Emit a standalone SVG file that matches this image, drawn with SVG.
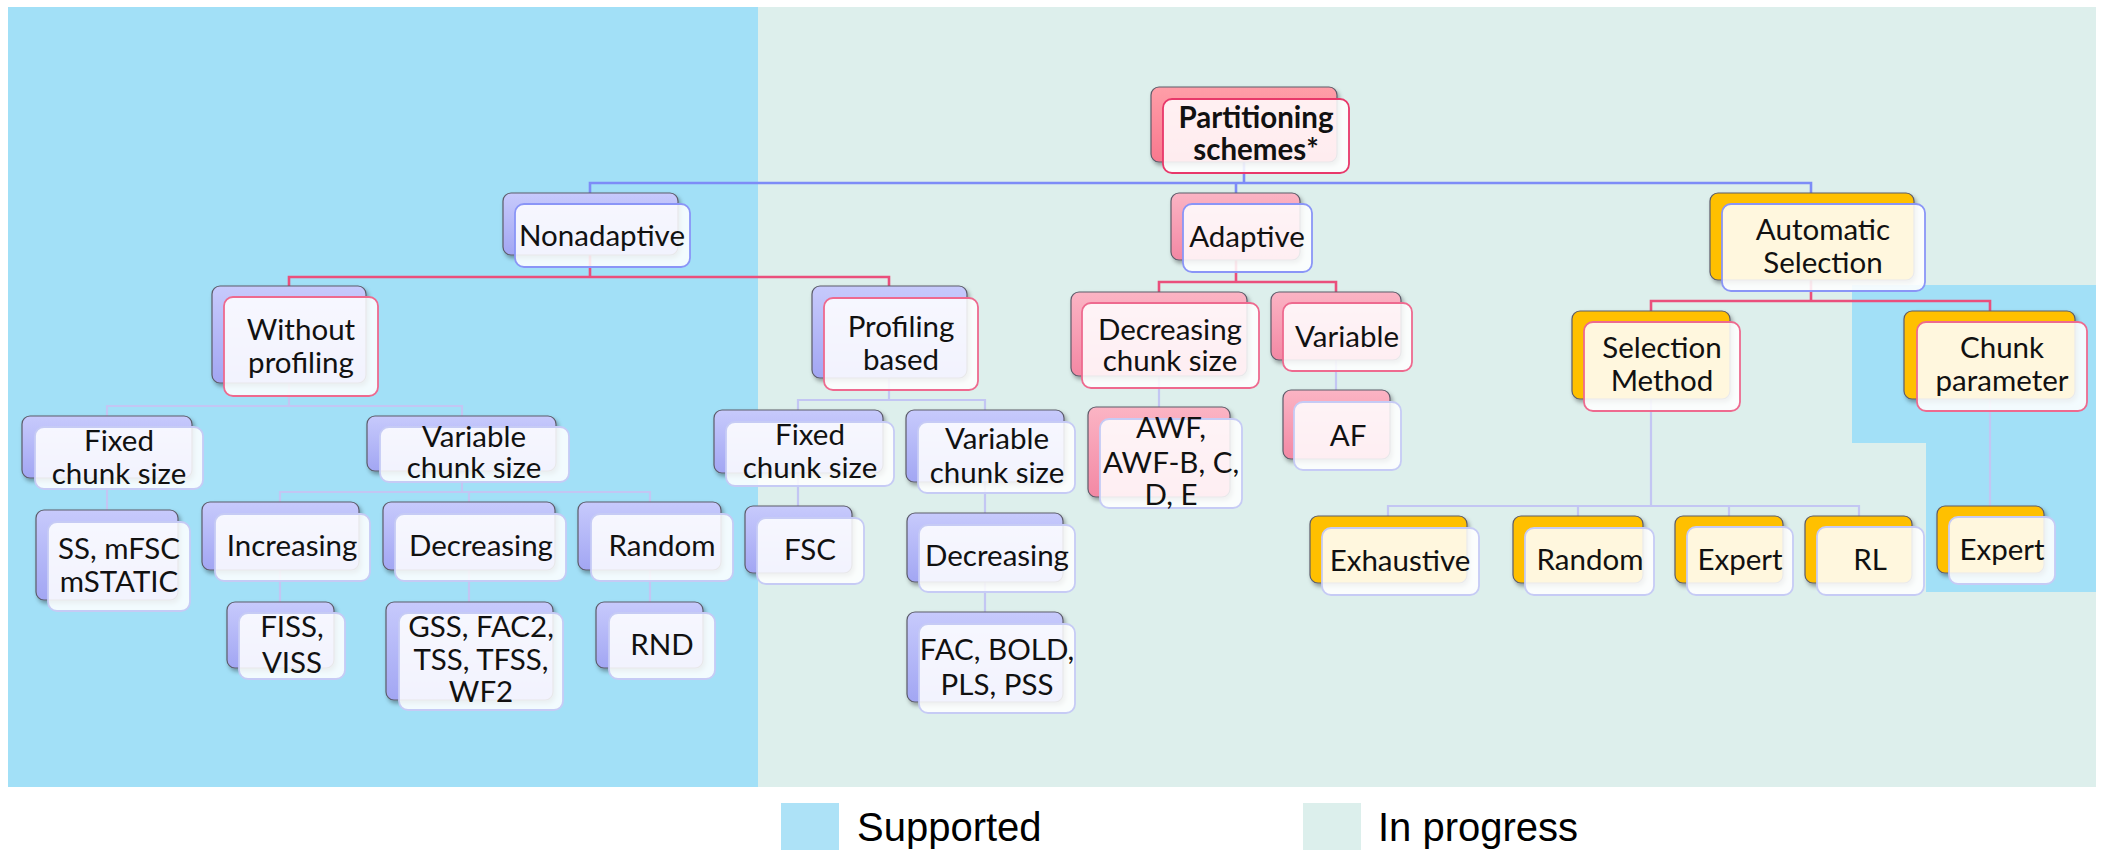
<svg xmlns="http://www.w3.org/2000/svg" width="2103" height="850" viewBox="0 0 2103 850">
<defs>
<linearGradient id="gLav" x1="0" y1="0" x2="0" y2="1"><stop offset="0" stop-color="#c7cafc"/><stop offset="1" stop-color="#a2a6f3"/></linearGradient>
<linearGradient id="gPink" x1="0" y1="0" x2="0" y2="1"><stop offset="0" stop-color="#fbb4c4"/><stop offset="1" stop-color="#f388a4"/></linearGradient>
<linearGradient id="gRoot" x1="0" y1="0" x2="0" y2="1"><stop offset="0" stop-color="#ff9ea8"/><stop offset="1" stop-color="#f8788e"/></linearGradient>
<filter id="sh" x="-10%" y="-10%" width="130%" height="140%"><feDropShadow dx="2" dy="3" stdDeviation="2" flood-color="#000" flood-opacity="0.35"/></filter>
</defs>
<style>
.bk{stroke:#5c5c6a;stroke-width:1.2;filter:url(#sh)}
.lav .bk{fill:url(#gLav)}
.pnk .bk{fill:url(#gPink)}
.gld .bk{fill:#ffc000}
.root .bk{fill:url(#gRoot)}
.fr{fill:#ffffff;fill-opacity:0.86;stroke-width:1.8}
.gld .fr{fill-opacity:0.87}
.l0 .fr{stroke:#e8386a}
.l1 .fr{stroke:#8a95f7}
.l2 .fr{stroke:#ee6a8f}
.l3 .fr{stroke:#c6cbf5}
text{font-family:Lato,"Liberation Sans",sans-serif;font-size:29.5px;fill:#111;text-anchor:middle}
.b{font-weight:bold}
.c0{fill:none;stroke:#7d8cf7;stroke-width:2.6}
.c1{fill:none;stroke:#ea4f7c;stroke-width:2.6}
.c2{fill:none;stroke:#c3c6f3;stroke-width:2.2}
.lg{font-family:"Liberation Sans",Arial,sans-serif;font-size:40px;text-anchor:start;fill:#000}
</style>
<rect x="0" y="0" width="2103" height="850" fill="#ffffff"/>
<rect x="8" y="7" width="750" height="780" fill="#a2e0f7"/>
<rect x="758" y="7" width="1338" height="780" fill="#ddefec"/>
<polygon points="1852,285 2096,285 2096,592 1926,592 1926,443 1852,443" fill="#a2e0f7"/>

<g id="connectors">
<path class="c0" d="M1244,162 V183 M590,193 V183 H1811 V193 M1236,183 V193"/>
<path class="c1" d="M590,255 V277 M289,286 V277 H889 V286"/>
<path class="c1" d="M1236,260 V282 M1159,292 V282 H1336 V292"/>
<path class="c1" d="M1811,280 V301 M1651,311 V301 H1990 V311"/>
<path class="c2" d="M289,383 V406 M107,416 V406 H462 V416"/>
<path class="c2" d="M107,478 V510"/>
<path class="c2" d="M462,471 V492 M280,502 V492 H650 V502 M469,492 V502"/>
<path class="c2" d="M280,570 V602 M469,570 V602 M650,570 V602"/>
<path class="c2" d="M889,378 V400 M798,410 V400 H985 V410"/>
<path class="c2" d="M798,473 V506 M985,482 V513 M985,582 V612"/>
<path class="c2" d="M1159,376 V407 M1336,360 V390"/>
<path class="c2" d="M1651,399 V506 M1388,516 V506 H1859 V516 M1578,506 V516 M1729,506 V516"/>
<path class="c2" d="M1990,399 V506"/>
</g>

<g id="n-partitioning" class="root l0"><rect class="bk" x="1151" y="87" width="186" height="75" rx="8"/><rect class="fr" x="1163" y="99" width="186" height="74" rx="9"/><text class="b"><tspan x="1256" y="128">Partitioning</tspan><tspan x="1256" y="160">schemes*</tspan></text></g>

<g id="n-nonadaptive" class="lav l1"><rect class="bk" x="503" y="193" width="175" height="62" rx="8"/><rect class="fr" x="515" y="204" width="175" height="63" rx="9"/><text x="602" y="246">Nonadaptive</text></g>
<g id="n-adaptive" class="pnk l1"><rect class="bk" x="1171" y="193" width="129" height="67" rx="8"/><rect class="fr" x="1183" y="204" width="129" height="68" rx="9"/><text x="1247" y="247">Adaptive</text></g>
<g id="n-automatic" class="gld l1"><rect class="bk" x="1710" y="193" width="204" height="87" rx="8"/><rect class="fr" x="1722" y="204" width="203" height="87" rx="9"/><text><tspan x="1823" y="240">Automatic</tspan><tspan x="1823" y="273">Selection</tspan></text></g>

<g id="n-without" class="lav l2"><rect class="bk" x="212" y="286" width="154" height="97" rx="8"/><rect class="fr" x="224" y="297" width="154" height="99" rx="9"/><text><tspan x="301" y="340">Without</tspan><tspan x="301" y="373">profiling</tspan></text></g>
<g id="n-profiling" class="lav l2"><rect class="bk" x="812" y="286" width="155" height="92" rx="8"/><rect class="fr" x="824" y="298" width="154" height="92" rx="9"/><text><tspan x="901" y="337">Profiling</tspan><tspan x="901" y="370">based</tspan></text></g>
<g id="n-adaptive-decreasing" class="pnk l2"><rect class="bk" x="1071" y="292" width="176" height="84" rx="8"/><rect class="fr" x="1082" y="303" width="177" height="85" rx="9"/><text><tspan x="1170" y="340">Decreasing</tspan><tspan x="1170" y="371">chunk size</tspan></text></g>
<g id="n-adaptive-variable" class="pnk l2"><rect class="bk" x="1271" y="292" width="130" height="68" rx="8"/><rect class="fr" x="1283" y="303" width="129" height="68" rx="9"/><text x="1347" y="347">Variable</text></g>
<g id="n-selection-method" class="gld l2"><rect class="bk" x="1572" y="311" width="158" height="88" rx="8"/><rect class="fr" x="1584" y="322" width="156" height="89" rx="9"/><text><tspan x="1662" y="358">Selection</tspan><tspan x="1662" y="391">Method</tspan></text></g>
<g id="n-chunk-parameter" class="gld l2"><rect class="bk" x="1904" y="311" width="171" height="88" rx="8"/><rect class="fr" x="1917" y="322" width="170" height="89" rx="9"/><text><tspan x="2002" y="358">Chunk</tspan><tspan x="2002" y="391">parameter</tspan></text></g>

<g id="n-fixed-1" class="lav l3"><rect class="bk" x="22" y="416" width="170" height="62" rx="8"/><rect class="fr" x="35" y="427" width="168" height="62" rx="9"/><text><tspan x="119" y="451">Fixed</tspan><tspan x="119" y="484">chunk size</tspan></text></g>
<g id="n-variable-1" class="lav l3"><rect class="bk" x="367" y="416" width="189" height="55" rx="8"/><rect class="fr" x="380" y="427" width="189" height="55" rx="9"/><text><tspan x="474" y="447">Variable</tspan><tspan x="474" y="478">chunk size</tspan></text></g>
<g id="n-fixed-2" class="lav l3"><rect class="bk" x="714" y="410" width="169" height="63" rx="8"/><rect class="fr" x="726" y="422" width="168" height="64" rx="9"/><text><tspan x="810" y="445">Fixed</tspan><tspan x="810" y="478">chunk size</tspan></text></g>
<g id="n-variable-2" class="lav l3"><rect class="bk" x="906" y="410" width="158" height="72" rx="8"/><rect class="fr" x="918" y="422" width="157" height="71" rx="9"/><text><tspan x="997" y="449">Variable</tspan><tspan x="997" y="483">chunk size</tspan></text></g>
<g id="n-awf" class="pnk l3"><rect class="bk" x="1088" y="407" width="142" height="90" rx="8"/><rect class="fr" x="1100" y="419" width="142" height="89" rx="9"/><text><tspan x="1171" y="438">AWF,</tspan><tspan x="1171" y="473">AWF-B, C,</tspan><tspan x="1171" y="505">D, E</tspan></text></g>
<g id="n-af" class="pnk l3"><rect class="bk" x="1283" y="390" width="107" height="69" rx="8"/><rect class="fr" x="1294" y="402" width="107" height="68" rx="9"/><text x="1348" y="446">AF</text></g>

<g id="n-ss" class="lav l3"><rect class="bk" x="36" y="510" width="142" height="90" rx="8"/><rect class="fr" x="48" y="522" width="142" height="89" rx="9"/><text><tspan x="119" y="559">SS, mFSC</tspan><tspan x="119" y="592">mSTATIC</tspan></text></g>
<g id="n-increasing" class="lav l3"><rect class="bk" x="202" y="502" width="157" height="68" rx="8"/><rect class="fr" x="215" y="514" width="155" height="67" rx="9"/><text x="292" y="556">Increasing</text></g>
<g id="n-decreasing-1" class="lav l3"><rect class="bk" x="383" y="502" width="172" height="68" rx="8"/><rect class="fr" x="395" y="514" width="171" height="67" rx="9"/><text x="481" y="556">Decreasing</text></g>
<g id="n-random-1" class="lav l3"><rect class="bk" x="578" y="502" width="143" height="68" rx="8"/><rect class="fr" x="591" y="514" width="142" height="67" rx="9"/><text x="662" y="556">Random</text></g>
<g id="n-fsc" class="lav l3"><rect class="bk" x="745" y="506" width="107" height="67" rx="8"/><rect class="fr" x="757" y="518" width="107" height="66" rx="9"/><text x="810" y="560">FSC</text></g>
<g id="n-decreasing-2" class="lav l3"><rect class="bk" x="907" y="513" width="156" height="69" rx="8"/><rect class="fr" x="919" y="525" width="156" height="67" rx="9"/><text x="997" y="566">Decreasing</text></g>
<g id="n-fiss" class="lav l3"><rect class="bk" x="227" y="602" width="107" height="66" rx="8"/><rect class="fr" x="239" y="613" width="106" height="66" rx="9"/><text><tspan x="292" y="637">FISS,</tspan><tspan x="292" y="673">VISS</tspan></text></g>
<g id="n-gss" class="lav l3"><rect class="bk" x="386" y="602" width="167" height="98" rx="8"/><rect class="fr" x="399" y="613" width="164" height="97" rx="9"/><text><tspan x="481" y="637">GSS, FAC2,</tspan><tspan x="481" y="670">TSS, TFSS,</tspan><tspan x="481" y="702">WF2</tspan></text></g>
<g id="n-rnd" class="lav l3"><rect class="bk" x="596" y="602" width="107" height="66" rx="8"/><rect class="fr" x="609" y="613" width="106" height="66" rx="9"/><text x="662" y="655">RND</text></g>
<g id="n-fac" class="lav l3"><rect class="bk" x="907" y="612" width="156" height="90" rx="8"/><rect class="fr" x="919" y="624" width="156" height="89" rx="9"/><text><tspan x="997" y="660">FAC, BOLD,</tspan><tspan x="997" y="695">PLS, PSS</tspan></text></g>

<g id="n-exhaustive" class="gld l3"><rect class="bk" x="1310" y="516" width="157" height="67" rx="8"/><rect class="fr" x="1322" y="528" width="157" height="67" rx="9"/><text x="1400" y="571">Exhaustive</text></g>
<g id="n-random-2" class="gld l3"><rect class="bk" x="1513" y="516" width="130" height="67" rx="8"/><rect class="fr" x="1525" y="528" width="129" height="67" rx="9"/><text x="1590" y="570">Random</text></g>
<g id="n-expert-1" class="gld l3"><rect class="bk" x="1675" y="516" width="108" height="67" rx="8"/><rect class="fr" x="1687" y="527" width="106" height="68" rx="9"/><text x="1740" y="570">Expert</text></g>
<g id="n-rl" class="gld l3"><rect class="bk" x="1805" y="516" width="107" height="67" rx="8"/><rect class="fr" x="1817" y="527" width="107" height="68" rx="9"/><text x="1870" y="570">RL</text></g>
<g id="n-expert-2" class="gld l3"><rect class="bk" x="1937" y="506" width="107" height="67" rx="8"/><rect class="fr" x="1949" y="517" width="106" height="67" rx="9"/><text x="2002" y="560">Expert</text></g>

<g id="legend">
<rect x="781" y="803" width="58" height="47" fill="#ade2f7"/>
<text class="lg" x="857" y="841">Supported</text>
<rect x="1303" y="803" width="58" height="47" fill="#dcefec"/>
<text class="lg" x="1378" y="841">In progress</text>
</g>
</svg>
